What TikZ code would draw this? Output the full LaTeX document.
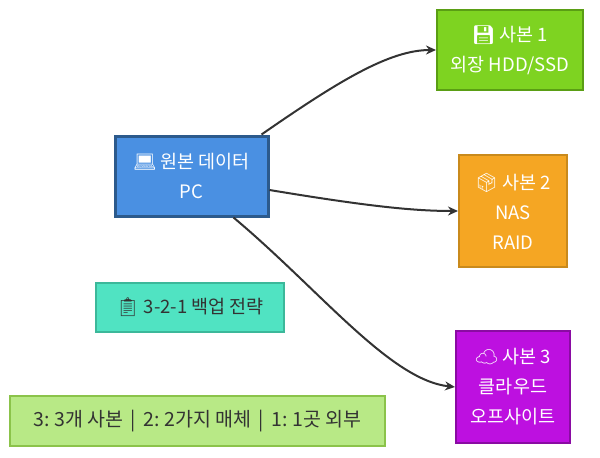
\documentclass[tikz,border=0pt]{standalone}
\usepackage{fontspec}
\setmainfont{Noto Sans CJK KR}
\newfontfamily\emo{Noto Emoji}
\usetikzlibrary{arrows.meta}
\definecolor{pcfill}{HTML}{4A90E2}\definecolor{pcdraw}{HTML}{2C5A8C}
\definecolor{gfill}{HTML}{7ED321}\definecolor{gdraw}{HTML}{5A9E14}
\definecolor{ofill}{HTML}{F5A623}\definecolor{odraw}{HTML}{C98A1C}
\definecolor{vfill}{HTML}{BD10E0}\definecolor{vdraw}{HTML}{8A0BA3}
\definecolor{tfill}{HTML}{50E3C2}\definecolor{tdraw}{HTML}{3CB89A}
\definecolor{lfill}{HTML}{B8E986}\definecolor{ldraw}{HTML}{8BC34A}
\definecolor{edge}{HTML}{333333}
\tikzset{
 box/.style={draw, line width=2pt, align=center, inner sep=0pt, font=\fontsize{18.5}{30}\selectfont},
 conn/.style={draw=edge, line width=2pt, -{Stealth[length=10pt,width=9pt]}}
}
\begin{document}
\begin{tikzpicture}[x=1pt,y=-1pt]
\useasboundingbox (0,0) rectangle (600,458);
\node[box, fill=pcfill, draw=pcdraw, line width=3pt, text=white, minimum width=153pt, minimum height=80pt] (pc) at (191.5,176) {{\emo 💻} 원본 데이터\\PC};
\node[box, fill=gfill, draw=gdraw, text=white, minimum width=146pt, minimum height=80pt] (c1) at (510,50) {{\emo 💾} 사본 1\\외장 HDD/SSD};
\node[box, fill=ofill, draw=odraw, text=white, minimum width=108pt, minimum height=112pt] (c2) at (513,211) {{\emo 📦} 사본 2\\NAS\\RAID};
\node[box, fill=vfill, draw=vdraw, text=white, minimum width=114pt, minimum height=112pt] (c3) at (513,387) {{\emo ☁} 사본 3\\클라우드\\오프사이트};
\node[box, fill=tfill, draw=tdraw, text=black!80, minimum width=188pt, minimum height=49pt] (st) at (190,307.5) {{\emo 📋} 3-2-1 백업 전략};
\node[box, fill=lfill, draw=ldraw, text=black!80, minimum width=375pt, minimum height=50pt, font=\fontsize{19.5}{30}\selectfont] (lg) at (197.5,421) {3:\ 3개 사본 \,|\, 2:\ 2가지 매체 \,|\, 1:\ 1곳 외부};
\draw[conn] ([xshift=70pt]pc.north) .. controls (340,80) and (390,50) .. (c1.west);
\draw[conn] (pc.east |- 0,190) .. controls (360,205) and (410,211) .. (c2.west);
\draw[conn] ([xshift=42pt]pc.south) .. controls (320,290) and (390,380) .. (c3.west);
\end{tikzpicture}
\end{document}
